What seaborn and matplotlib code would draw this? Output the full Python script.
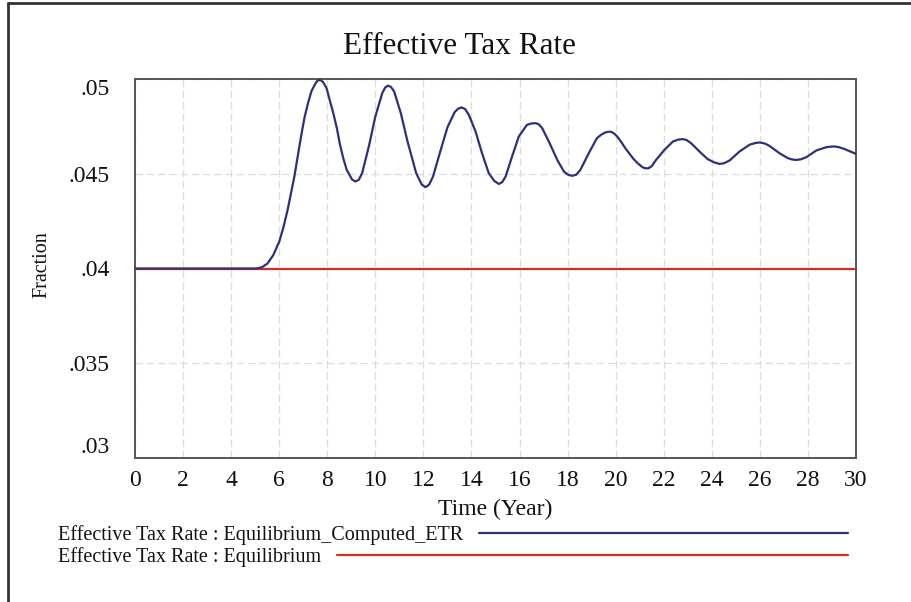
import matplotlib
matplotlib.use("Agg")
import matplotlib.pyplot as plt
from matplotlib.lines import Line2D
import seaborn as sns
import pandas as pd

# ---- data ----
time_computed = [0, 5.0, 5.16, 5.3, 5.51, 5.75, 6.0, 6.17, 6.35, 6.63, 6.91, 7.05, 7.2,
                 7.34, 7.48, 7.58, 7.69, 7.82, 7.97, 8.1, 8.25, 8.4, 8.53, 8.67, 8.81,
                 9.03, 9.17, 9.31, 9.45, 9.73, 10.0, 10.29, 10.41, 10.53, 10.65, 10.78,
                 11.06, 11.34, 11.7, 11.93, 12.09, 12.24, 12.4, 12.68, 13.0, 13.3, 13.44,
                 13.58, 13.73, 13.89, 14.17, 14.44, 14.72, 14.95, 15.14, 15.28, 15.42,
                 15.69, 15.97, 16.31, 16.49, 16.67, 16.8, 16.94, 17.22, 17.57, 17.85,
                 18.02, 18.19, 18.36, 18.53, 18.88, 19.22, 19.4, 19.57, 19.68, 19.8,
                 19.93, 20.06, 20.23, 20.4, 20.58, 20.75, 20.92, 21.1, 21.2, 21.35,
                 21.5, 21.68, 22.03, 22.38, 22.6, 22.79, 22.95, 23.14, 23.49, 23.83,
                 24.1, 24.32, 24.5, 24.74, 25.15, 25.57, 25.8, 25.99, 26.2, 26.4,
                 26.82, 27.17, 27.35, 27.51, 27.7, 27.93, 28.35, 28.76, 28.95, 29.11,
                 29.3, 29.53, 30.0]
etr_computed = [.04, .04, .04003, .04008, .04026, .0407, .04141, .04215, .04309, .04485,
                .04697, .04795, .04873, .04935, .0497, .0499, .04996, .04985, .04952,
                .0489, .0482, .0474, .04653, .0458, .0452, .0447, .04459, .04468, .04503,
                .04644, .04802, .04926, .04955, .04965, .04958, .04935, .0482, .0467,
                .04503, .04443, .04429, .04443, .04485, .04608, .04745, .04825, .04843,
                .0485, .04842, .04811, .04723, .04608, .04503, .04462, .04446, .04456,
                .04485, .04591, .04697, .04758, .04765, .04767, .04761, .04741, .0467,
                .04573, .04511, .04495, .04489, .04495, .0452, .04608, .04688, .04706,
                .04718, .04721, .04722, .04713, .04697, .04668, .04635, .04605, .04577,
                .04555, .04536, .0453, .04528, .0454, .04573, .04626, .0467, .0468,
                .04683, .04678, .04661, .04617, .04577, .0456, .04552, .04555, .0457,
                .04617, .04653, .04662, .04665, .0466, .04647, .04608, .04582, .04575,
                .04573, .04576, .04587, .04623, .0464, .04643, .04644, .0464, .0463,
                .04605]
time_equilibrium = [0, 30]
etr_equilibrium = [.04, .04]

x_ticks = list(range(0, 31, 2))
y_ticks = [.03, .035, .04, .045, .05]
y_tick_labels = [".03", ".035", ".04", ".045", ".05"]

title = "Effective Tax Rate"
x_label = "Time (Year)"
y_label = "Fraction"
legend_labels = ["Effective Tax Rate : Equilibrium_Computed_ETR",
                 "Effective Tax Rate : Equilibrium"]
colors = ["#2e2f7e", "#d0301f"]

# ---- plot ----
sns.set_theme(style="white")
plt.rcParams["font.family"] = ["Liberation Serif", "DejaVu Serif"]

W, H = 912, 602
fig = plt.figure(figsize=(W / 100, H / 100), dpi=100)
ax = fig.add_axes([135 / W, 1 - 458 / H, (856 - 135) / W, (458 - 79) / H])

df_c = pd.DataFrame({"t": time_computed, "v": etr_computed})
df_e = pd.DataFrame({"t": time_equilibrium, "v": etr_equilibrium})
sns.lineplot(data=df_e, x="t", y="v", ax=ax, color=colors[1], lw=1.6, zorder=3)
sns.lineplot(data=df_c, x="t", y="v", ax=ax, color=colors[0], lw=1.6, zorder=4)
for ln in ax.lines:
    ln.set_solid_joinstyle("round")

ax.set_xlim(0, 30)
ax.set_ylim(.03, .05)
ax.set_xticks(x_ticks)
ax.set_xticklabels([str(t) for t in x_ticks], fontsize=17)
ax.set_yticks(y_ticks)
ax.set_yticklabels(y_tick_labels, fontsize=17)
yl = ax.get_yticklabels()
yl[0].set_va("bottom")
yl[-1].set_va("top")
ax.tick_params(axis="both", length=0, colors="#111111")
ax.tick_params(axis="x", pad=9)
ax.tick_params(axis="y", pad=18)

ax.grid(True, color="#dcdcdc", lw=0.9, ls=(0, (6, 3)))
for s in ax.spines.values():
    s.set_color("#555555")
    s.set_linewidth(1.4)

ax.set_xlabel(x_label, fontsize=17, color="#111111", labelpad=5)
ax.set_ylabel("")
fig.text(42 / W, 1 - 265 / H, y_label, rotation=90, fontsize=14.5,
         color="#111111", ha="center", va="center")
fig.text(460 / W, 1 - 46 / H, title, fontsize=22.5, color="#111111",
         ha="center", va="center")

# legend drawn below the axes, Vensim style
renderer = fig.canvas.get_renderer()
for i, (lab, col) in enumerate(zip(legend_labels, colors)):
    yc = 1 - (535 + 22 * i) / H
    t = fig.text(58 / W, yc, lab, fontsize=14.5, color="#111111", ha="left", va="center")
    bb = t.get_window_extent(renderer=renderer)
    x0 = (bb.x1 + 16) / W
    fig.add_artist(Line2D([x0, 848 / W], [yc + 2 / H, yc + 2 / H], color=col, lw=1.6,
                          transform=fig.transFigure))

# outer frame (left and top edges)
fig.add_artist(Line2D([8 / W, 8 / W], [0, 1 - 3 / H], color="#333333", lw=2,
                      transform=fig.transFigure))
fig.add_artist(Line2D([8 / W, 1], [1 - 3 / H, 1 - 3 / H], color="#333333", lw=2,
                      transform=fig.transFigure))

fig.savefig("out.png", dpi=100)
